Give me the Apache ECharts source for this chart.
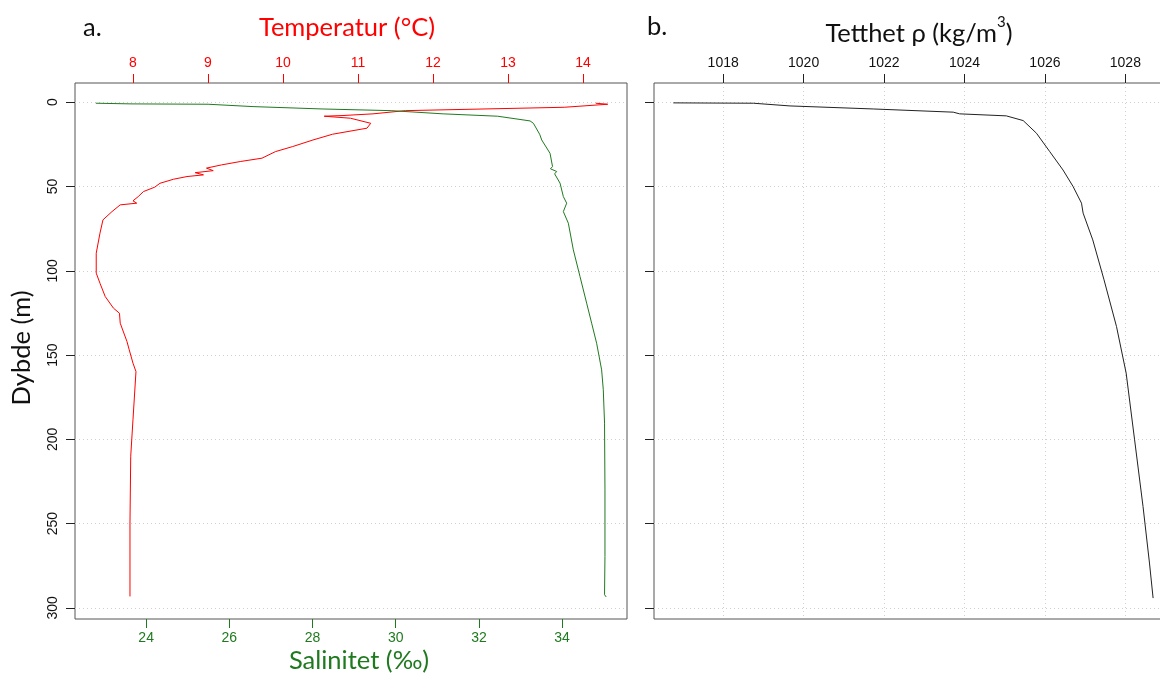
<!DOCTYPE html>
<html>
<head>
<meta charset="utf-8">
<script src="https://cdn.jsdelivr.net/npm/echarts@6/dist/echarts.min.js"></script>
<style>
html,body{margin:0;padding:0;background:#fff;}
#chart{width:1160px;height:673px;}
</style>
</head>
<body>
<div id="chart"></div>
<script>
// ---- data ----
const tempDepth = [0.6,1.2,3.0,5.0,6.9,7.9,8.3,9.5,12.5,15.4,19.0,22.4,26.3,29.3,33.2,35.2,37.2,39.1,40.6,41.8,43.1,44.1,45.7,48.1,50.4,53.0,56.0,58.5,59.9,60.9,64.9,69.8,77.7,89.6,101.4,107.4,115.3,122.2,125.2,131.1,142.0,146.9,154.8,159.8,188.4,210.0,249.7,293.2];
const tempValue = [14.17,14.33,13.75,11.63,11.20,10.80,10.55,10.90,11.17,11.12,10.66,10.40,10.13,9.90,9.72,9.43,9.18,8.98,9.07,8.83,8.94,8.72,8.54,8.36,8.29,8.14,8.07,8.00,8.05,7.83,7.72,7.60,7.56,7.51,7.51,7.56,7.63,7.74,7.82,7.83,7.92,7.95,8.00,8.04,8.00,7.97,7.96,7.96];

const salDepth = [0.6,1.0,1.2,2.6,4.0,5.0,6.9,8.3,11.1,12.5,19.0,22.4,30.3,38.2,39.5,41.1,42.5,48.0,56.0,59.9,64.9,71.8,87.6,103.4,119.2,131.1,143.0,158.8,170.6,190.4,230.0,269.5,292.2,293.5];
const salValue = [22.79,23.66,25.49,26.57,28.23,29.89,31.14,32.45,33.23,33.31,33.46,33.51,33.71,33.77,33.72,33.87,33.82,33.95,34.03,34.11,34.03,34.15,34.27,34.43,34.59,34.71,34.83,34.95,34.99,35.02,35.03,35.03,35.02,35.06];

const densDepth = [0.4,0.6,2.2,4.0,5.9,6.9,8.1,10.9,18.4,29.3,40.2,50.0,59.9,65.8,81.7,105.4,133.1,160.7,200.3,239.9,273.4,294.2];
const densValue = [1016.76,1018.75,1019.66,1021.73,1023.72,1023.88,1025.04,1025.46,1025.79,1026.12,1026.45,1026.70,1026.91,1026.95,1027.19,1027.47,1027.78,1028.02,1028.23,1028.44,1028.60,1028.69];

const tempTicks = [8,9,10,11,12,13,14];
const salTicks = [24,26,28,30,32,34];
const densTicks = [1018,1020,1022,1024,1026,1028];
const depthTicks = [0,50,100,150,200,250,300];

// ---- styling ----
const RED = '#ff0000';
const GREEN = '#1f7a1f';
const TICKFONT = 'Liberation Sans';
const TITLEFONT = 'Lato';
const TS = 25.5;
const FS = 14;
const gridLine = {show:true, lineStyle:{color:'#d0d0d0', type:[1,3], width:1}};
const plain = v => String(v);

const pair = (xs, ds) => ds.map((d,i)=>[xs[i], d]);

const chart = echarts.init(document.getElementById('chart'), null, {renderer:'canvas'});
chart.setOption({
  animation:false,
  backgroundColor:'#fff',
  grid:[
    {left:75, top:83, width:552, height:536, show:true, borderColor:'#555', borderWidth:1, backgroundColor:'transparent', containLabel:false, outerBoundsMode:'none'},
    {left:654, top:83, width:518, height:536, show:true, borderColor:'#555', borderWidth:1, backgroundColor:'transparent', containLabel:false, outerBoundsMode:'none'}
  ],
  xAxis:[
    {type:'value', gridIndex:0, position:'top', min:7.227, max:14.587,
     axisLine:{show:false, onZero:false},
     axisTick:{show:true, length:9, customValues:tempTicks, lineStyle:{color:RED}},
     axisLabel:{customValues:tempTicks, formatter:plain, color:RED, fontFamily:TICKFONT, fontSize:FS, margin:13},
     splitLine:{show:false}},
    {type:'value', gridIndex:0, position:'bottom', min:22.29, max:35.56,
     axisLine:{show:false, onZero:false},
     axisTick:{show:true, length:9, customValues:salTicks, lineStyle:{color:GREEN}},
     axisLabel:{customValues:salTicks, formatter:plain, color:GREEN, fontFamily:TICKFONT, fontSize:FS, margin:12},
     splitLine:{show:false}},
    {type:'value', gridIndex:1, position:'top', min:1016.28, max:1029.16,
     axisLine:{show:false, onZero:false},
     axisTick:{show:true, length:9, customValues:densTicks, lineStyle:{color:'#222'}},
     axisLabel:{customValues:densTicks, formatter:plain, color:'#111', fontFamily:TICKFONT, fontSize:FS, margin:13},
     splitLine:gridLine}
  ],
  yAxis:[
    {type:'value', gridIndex:0, inverse:true, min:-11.4, max:306.6,
     axisLine:{show:false, onZero:false},
     axisTick:{show:true, length:9, customValues:depthTicks, lineStyle:{color:'#222'}},
     axisLabel:{customValues:depthTicks, formatter:plain, rotate:90, color:'#111', fontFamily:TICKFONT, fontSize:FS, margin:15},
     splitLine:gridLine},
    {type:'value', gridIndex:1, inverse:true, min:-11.4, max:306.6,
     axisLine:{show:false, onZero:false},
     axisTick:{show:true, length:9, customValues:depthTicks, lineStyle:{color:'#222'}},
     axisLabel:{show:false},
     splitLine:gridLine}
  ],
  series:[
    {name:'Temperatur', type:'line', xAxisIndex:0, yAxisIndex:0, data:pair(tempValue, tempDepth),
     showSymbol:false, symbol:'none', lineStyle:{color:RED, width:1}, itemStyle:{color:RED}},
    {name:'Salinitet', type:'line', xAxisIndex:1, yAxisIndex:0, data:pair(salValue, salDepth),
     showSymbol:false, symbol:'none', lineStyle:{color:GREEN, width:1}, itemStyle:{color:GREEN}},
    {name:'Tetthet', type:'line', xAxisIndex:2, yAxisIndex:1, data:pair(densValue, densDepth),
     showSymbol:false, symbol:'none', lineStyle:{color:'#222', width:1}, itemStyle:{color:'#222'}}
  ],
  graphic:[
    {type:'text', x:83, y:28, style:{text:'a.', fontFamily:TITLEFONT, fontSize:TS, fill:'#111', align:'left', verticalAlign:'middle'}},
    {type:'text', x:647, y:27, style:{text:'b.', fontFamily:TITLEFONT, fontSize:TS, fill:'#111', align:'left', verticalAlign:'middle'}},
    {type:'text', x:347, y:28, style:{text:'Temperatur (°C)', fontFamily:TITLEFONT, fontSize:TS, fill:RED, align:'center', verticalAlign:'middle'}},
    {type:'text', x:359, y:661, style:{text:'Salinitet (‰)', fontFamily:TITLEFONT, fontSize:TS, fill:GREEN, align:'center', verticalAlign:'middle'}},
    {type:'text', x:22, y:348, rotation:Math.PI/2, style:{text:'Dybde (m)', fontFamily:TITLEFONT, fontSize:TS, fill:'#111', align:'center', verticalAlign:'middle'}},
    {type:'text', x:919, y:31, style:{text:'{a|Tetthet ρ (kg/m}{s|3}{a|)}', align:'center', verticalAlign:'middle',
      rich:{a:{fontFamily:TITLEFONT, fontSize:TS, fill:'#111', color:'#111', lineHeight:32, verticalAlign:'bottom'},
            s:{fontFamily:TITLEFONT, fontSize:15, fill:'#111', color:'#111', lineHeight:15, verticalAlign:'top'}}}}
  ]
});
</script>
</body>
</html>
